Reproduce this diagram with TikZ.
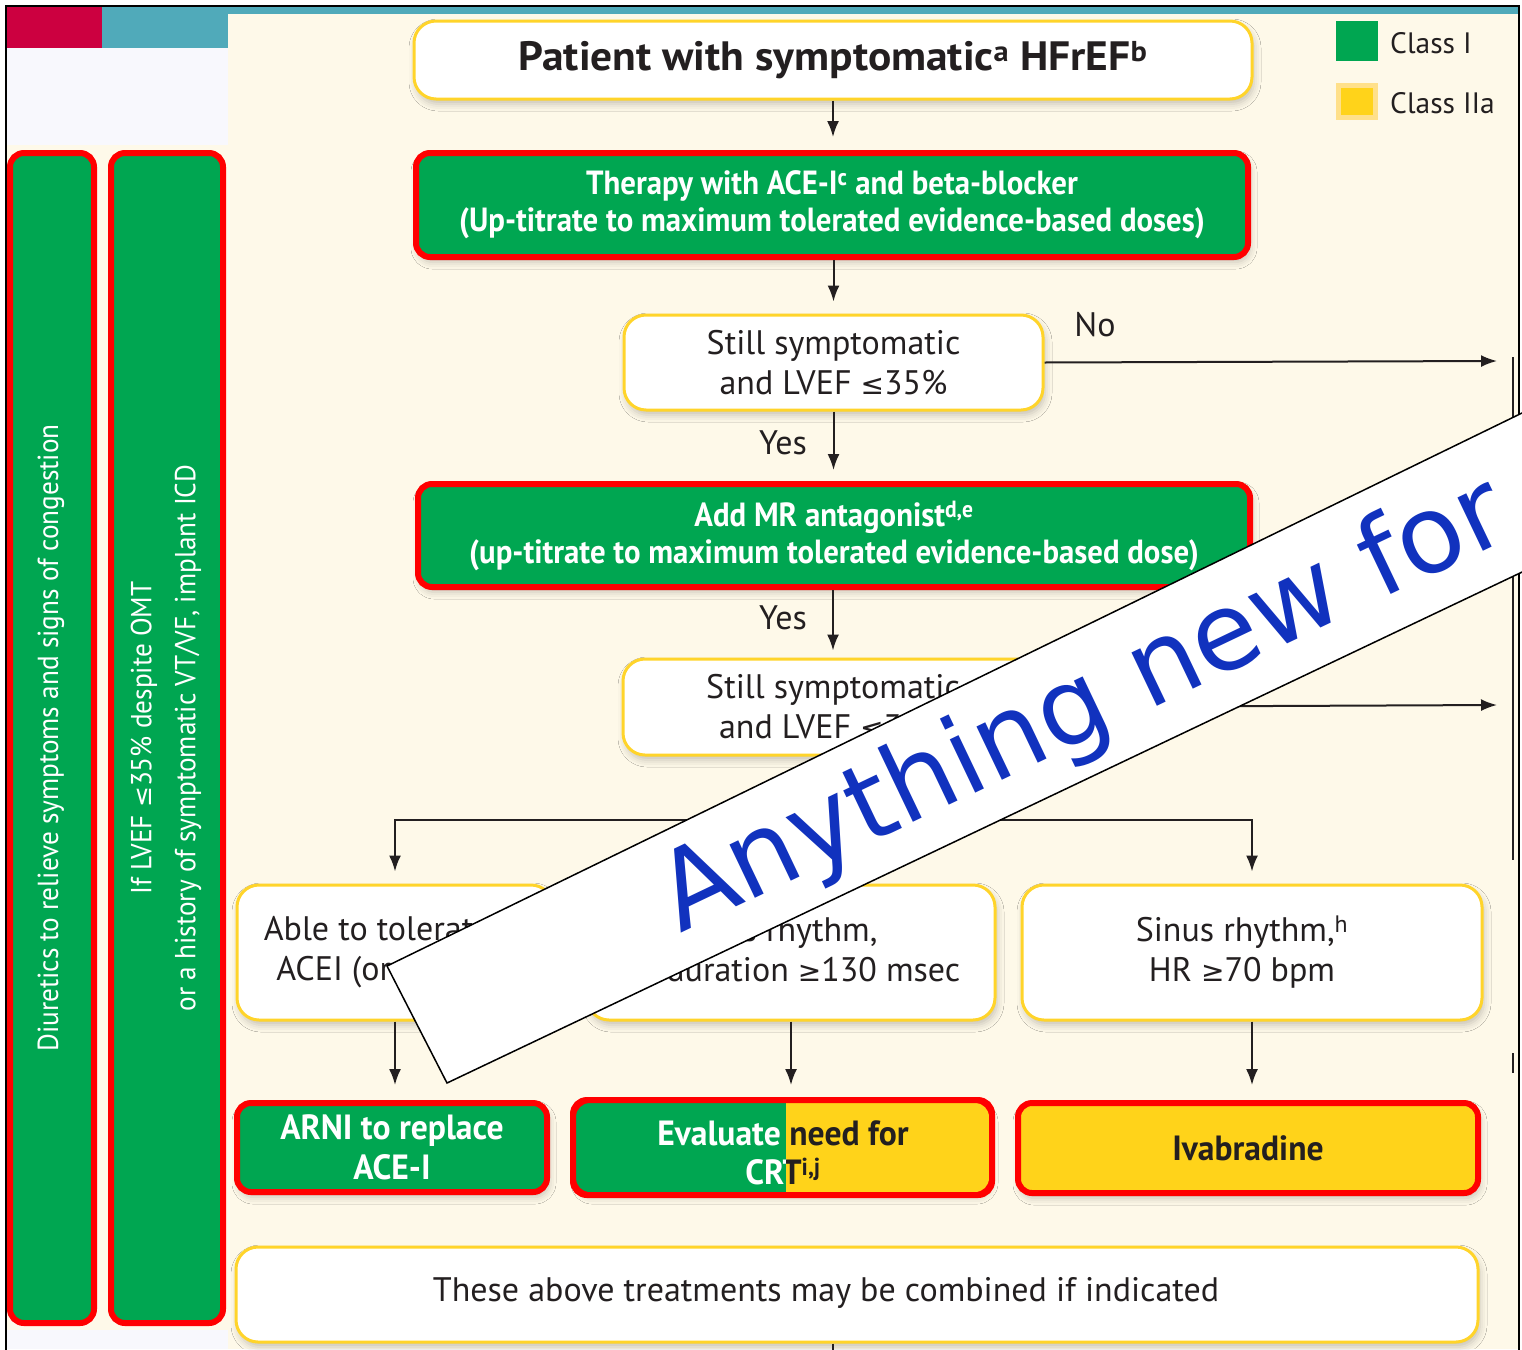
\documentclass[tikz,border=0pt]{standalone}
\usepackage{fontspec}
\usetikzlibrary{arrows.meta,calc,shadows.blur}
\newfontfamily\fA{PT Sans}
\newfontfamily\fB{PT Sans}[FakeStretch=0.92]
\newfontfamily\fC{PT Sans}[FakeStretch=0.94]
\newfontfamily\fT{PT Sans}[FakeStretch=1.06]
\newfontfamily\fW{PT Sans}[FakeStretch=0.96]
\newfontfamily\djv{DejaVu Sans}
\newcommand\fsz[2]{\fontsize{#1}{#2}\selectfont}
\definecolor{cream}{HTML}{FEF9E9}
\definecolor{lav}{HTML}{F8F8FD}
\definecolor{crim}{HTML}{CC0040}
\definecolor{cteal}{HTML}{50AABA}
\definecolor{cgreen}{HTML}{00A651}
\definecolor{cred}{HTML}{FF0000}
\definecolor{cyel}{HTML}{FFD31A}
\definecolor{cyelb}{HTML}{FFD42A}
\definecolor{cyell}{HTML}{FFE08A}
\definecolor{cblue}{HTML}{1132BE}
\definecolor{ink}{HTML}{231F20}
\begin{document}
\begin{tikzpicture}[x=1pt,y=-1pt,
  shad/.style={blur shadow={shadow xshift=2pt, shadow yshift=-5pt, shadow blur radius=7pt, shadow opacity=22}},
  ybox/.style={draw=cyelb, line width=3pt, fill=white, rounded corners=22pt, inner sep=0pt, align=center, text=ink, font=\fA\fsz{34}{40}, shad},
  rbox/.style={draw=cred, line width=6pt, fill=cgreen, rounded corners=14pt, inner sep=0pt, align=center, text=white, font=\fB\bfseries\fsz{33.5}{37}, shad},
  tbox/.style={rbox, font=\fW\bfseries\fsz{35}{40}},
  arr/.style={draw=ink, line width=2pt, -{Latex[length=16pt,width=12pt]}},
  ln/.style={draw=ink, line width=2pt},
  lab/.style={text=ink, font=\fA\fsz{34}{40}, inner sep=0pt},
  bartext/.style={rotate=90, text=white, align=center, font=\fC\fsz{29}{44}, inner sep=0pt}
]
\useasboundingbox (0,0) rectangle (1522,1349);
\clip (0,0) rectangle (1522,1349);
% background
\fill[white] (0,0) rectangle (1522,1349);
\fill[lav] (7,48) rectangle (228,1349);
\fill[cream] (7,145) rectangle (228,1330);
\fill[cream] (228,14) rectangle (1519,1349);
\fill[crim] (7,7) rectangle (102,48);
\fill[cteal] (102,7) rectangle (228,48);
\fill[cteal] (228,7) rectangle (1519,14);
\draw[black, line width=1.5pt] (6,1360) -- (6,6) -- (1519,6) -- (1519,1360);

% left bars
\node[draw=cred, line width=6pt, fill=cgreen, rounded corners=14pt, minimum width=84pt, minimum height=1170pt, inner sep=0pt] (bar1) at (52,738) {};
\node[bartext] (bar1t) at (51,738) {Diuretics to relieve symptoms and signs of congestion};
\node[draw=cred, line width=6pt, fill=cgreen, rounded corners=14pt, minimum width=112pt, minimum height=1170pt, inner sep=0pt] (bar2) at (167,738) {};
\node[bartext] (bar2t) at (166,738) {If LVEF {\djv\fsz{25}{44}≤}35\% despite OMT\\or a history of symptomatic VT/VF, implant ICD};

% legend
\node[fill=cgreen, minimum width=42pt, minimum height=40pt, inner sep=0pt] (lg1) at (1357,41) {};
\node[anchor=west, text=ink, font=\fA\fsz{29.5}{32}, inner sep=0pt] (lg1t) at (1390,43) {Class I};
\node[fill=cyel, draw=cyell, line width=5pt, minimum width=37pt, minimum height=32pt, inner sep=0pt] (lg2) at (1357,101) {};
\node[anchor=west, text=ink, font=\fA\fsz{29.5}{32}, inner sep=0pt] (lg2t) at (1390,103) {Class IIa};

% main column
\node[ybox, minimum width=838pt, minimum height=78pt, font=\fT\bfseries\fsz{41}{44}] (b1) at (833,60) {Patient with symptomatic\textsuperscript{a} HFrEF\textsuperscript{b}};
\node[rbox, minimum width=832pt, minimum height=104pt] (b2) at (832,205) {Therapy with ACE-I\textsuperscript{c} and beta-blocker\\(Up-titrate to maximum tolerated evidence-based doses)};
\node[ybox, minimum width=419pt, minimum height=95pt] (b3) at (833.5,362.5) {Still symptomatic\\and LVEF {\djv\fsz{28}{40}≤}35\%};
\node[rbox, minimum width=832pt, minimum height=103pt] (b4) at (834,535.5) {Add MR antagonist\textsuperscript{d,e}\\(up-titrate to maximum tolerated evidence-based dose)};
\node[ybox, minimum width=420pt, minimum height=96pt] (b5) at (833,707) {Still symptomatic\\and LVEF {\djv\fsz{28}{40}≤}35\%};

\node[lab] (no) at (1095,325) {No};
\node[lab] (yes1) at (783,443) {Yes};
\node[lab] (yes2) at (783,618) {Yes};

\coordinate (noEnd) at (1497,361);
\coordinate (noEnd2) at (1497,705);
\coordinate (sp) at (833,820);
\coordinate (rl1) at (1513,357);
\coordinate (rl2) at (1513,860);
\coordinate (rl3) at (1513,1053);
\coordinate (rl4) at (1513,1073);

% row of conditions
\node[ybox, minimum width=316pt, minimum height=135pt] (bA) at (395,952.5) {};
\node[lab, align=center] (bAt) at (377,952.5) {Able to tolerate\\ACEI (or ARB)\textsuperscript{f}};
\node[ybox, minimum width=408pt, minimum height=135pt] (bB) at (791,952.5) {};
\node[lab, align=center] (bBt) at (778,952.5) {Sinus rhythm,\\QRS duration {\djv\fsz{28}{40}≥}130 msec};
\node[ybox, minimum width=460pt, minimum height=135pt] (bC) at (1252,952.5) {};
\node[lab, align=center] (bCt) at (1242,952.5) {Sinus rhythm,\textsuperscript{h}\\HR {\djv\fsz{28}{40}≥}70 bpm};

% treatments
\node[tbox, minimum width=310pt, minimum height=89pt] (arni) at (392,1147.5) {ARNI to replace\\ACE-I};
\node[rbox, fill=none, minimum width=413pt, minimum height=89pt] (ev) at (782.5,1147.5) {};
\begin{scope}
  \clip[rounded corners=14pt] (576,1103) rectangle (989,1192);
  \fill[cgreen] (570,1095) rectangle (786,1200);
  \fill[cyel] (786,1095) rectangle (995,1200);
\end{scope}
\draw[cred, line width=6pt, rounded corners=14pt] (ev.north west) rectangle (ev.south east);
\begin{scope}
  \clip (560,1090) rectangle (786,1200);
  \node[align=center, text=white, font=\fW\bfseries\fsz{35}{39}, inner sep=0pt] (evw) at (783,1153) {Evaluate need for\\CRT\textsuperscript{i,j}};
\end{scope}
\begin{scope}
  \clip (786,1090) rectangle (1000,1200);
  \node[align=center, text=ink, font=\fW\bfseries\fsz{35}{39}, inner sep=0pt] (evb) at (783,1153) {Evaluate need for\\CRT\textsuperscript{i,j}};
\end{scope}
\node[tbox, fill=cyel, text=ink, minimum width=460pt, minimum height=90pt] (iv) at (1248,1148) {Ivabradine};

\node[ybox, minimum width=1242pt, minimum height=95pt] (bot) at (857,1294.5) {};
\node[lab] (botT) at (826,1293) {These above treatments may be combined if indicated};
\coordinate (botEnd) at (833,1355);

% connectors
\draw[arr, shorten >=13pt] (b1.south) -- (b1.south |- b2.north);
\draw[arr, shorten >=12pt] (b2.south -| b3.north) -- (b3.north);
\draw[arr, shorten >=11pt] (b3.south) -- (b3.south |- b4.north);
\draw[arr, shorten >=7pt] (b4.south -| b5.north) -- (b5.north);
\draw[arr] (b3.east) -- (noEnd);
\draw[arr] (b5.east) -- (noEnd2);
\draw[ln] (b5.south) -- (sp);
\draw[arr, shorten >=12pt] (sp) -| (bA.north);
\draw[arr, shorten >=12pt] (sp) -| (bB.north);
\draw[arr, shorten >=12pt] (sp) -| (bC.north);
\draw[arr, shorten >=15pt] (bA.south) -- (bA.south |- arni.north);
\draw[arr, shorten >=15pt] (bB.south) -- (bB.south |- ev.north);
\draw[arr, shorten >=15pt] (bC.south) -- (bC.south |- iv.north);
\draw[ln] (botEnd |- bot.south) -- (botEnd);
\draw[ink, line width=1.5pt] (rl1) -- (rl2);
\draw[ink, line width=1.5pt] (rl3) -- (rl4);

% overlay banner
\filldraw[fill=white, draw=black, line width=1.5pt] (387,966) -- (1600,375) -- (1600,535) -- (447,1083) -- cycle;
\node[rotate=25.5, anchor=base west, inner sep=0pt, text=cblue, font=\djv\fsz{108}{112}] (ban) at (680,934) {Anything new for};
\end{tikzpicture}
\end{document}
